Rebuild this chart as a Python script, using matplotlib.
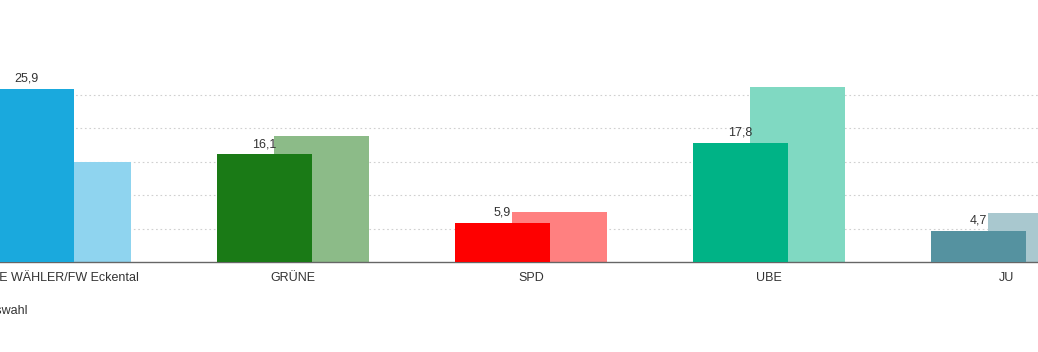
import matplotlib.pyplot as plt

plt.rcParams['font.family'] = ['Liberation Sans', 'DejaVu Sans']

# parties and results (current vs previous election)
parties = ["FREIE WÄHLER/FW Eckental", "GRÜNE", "SPD", "UBE", "JU"]
current = [25.9, 16.1, 5.9, 17.8, 4.7]
previous = [15.0, 18.9, 7.5, 26.2, 7.3]
current_labels = ["25,9", "16,1", "5,9", "17,8", "4,7"]

dark_colors = ["#1aa9dd", "#1a7a16", "#fe0000", "#00b386", "#5592a0"]
light_colors = ["#8fd4ef", "#8cbb88", "#ff8080", "#80d9c2", "#a9c8cf"]

fig = plt.figure(figsize=(10.38, 3.52), dpi=100)
# the view is a crop of a wider chart, so the axes fill the whole width
ax = fig.add_axes([0, 90 / 352, 1, 262 / 352])

x = list(range(len(parties)))
width = 0.4
off = 0.12

ax.bar([i + off for i in x], previous, width=width, color=light_colors, zorder=2)
ax.bar([i - off for i in x], current, width=width, color=dark_colors, zorder=3)

for i, v, lab in zip(x, current, current_labels):
    ax.annotate(lab, (i - off, v), xytext=(0, 3), textcoords='offset points',
                ha='center', va='bottom', fontsize=9, color='#333333', zorder=5)

ax.set_xlim(-55 / 238, (1038 - 55) / 238)
ax.set_ylim(0, 262 / 6.68)
ax.set_yticks([5, 10, 15, 20, 25])
ax.yaxis.grid(True, linestyle=(0, (1.5, 2.5)), color='#d0d0d0', linewidth=0.8, zorder=0)
ax.set_axisbelow(True)
ax.tick_params(axis='y', left=False, labelleft=False)
ax.set_xticks(x)
ax.set_xticklabels(parties, fontsize=9, color='#333333')
ax.tick_params(axis='x', length=0, pad=7)

for s in ['top', 'left', 'right']:
    ax.spines[s].set_visible(False)
ax.spines['bottom'].set_color('#666666')
ax.spines['bottom'].set_linewidth(1)

fig.text(28 / 1038, 1 - 311 / 352, "Gemeinderatswahl", ha='right', va='center',
         fontsize=9, color='#333333')

fig.savefig("out.png", dpi=100)
